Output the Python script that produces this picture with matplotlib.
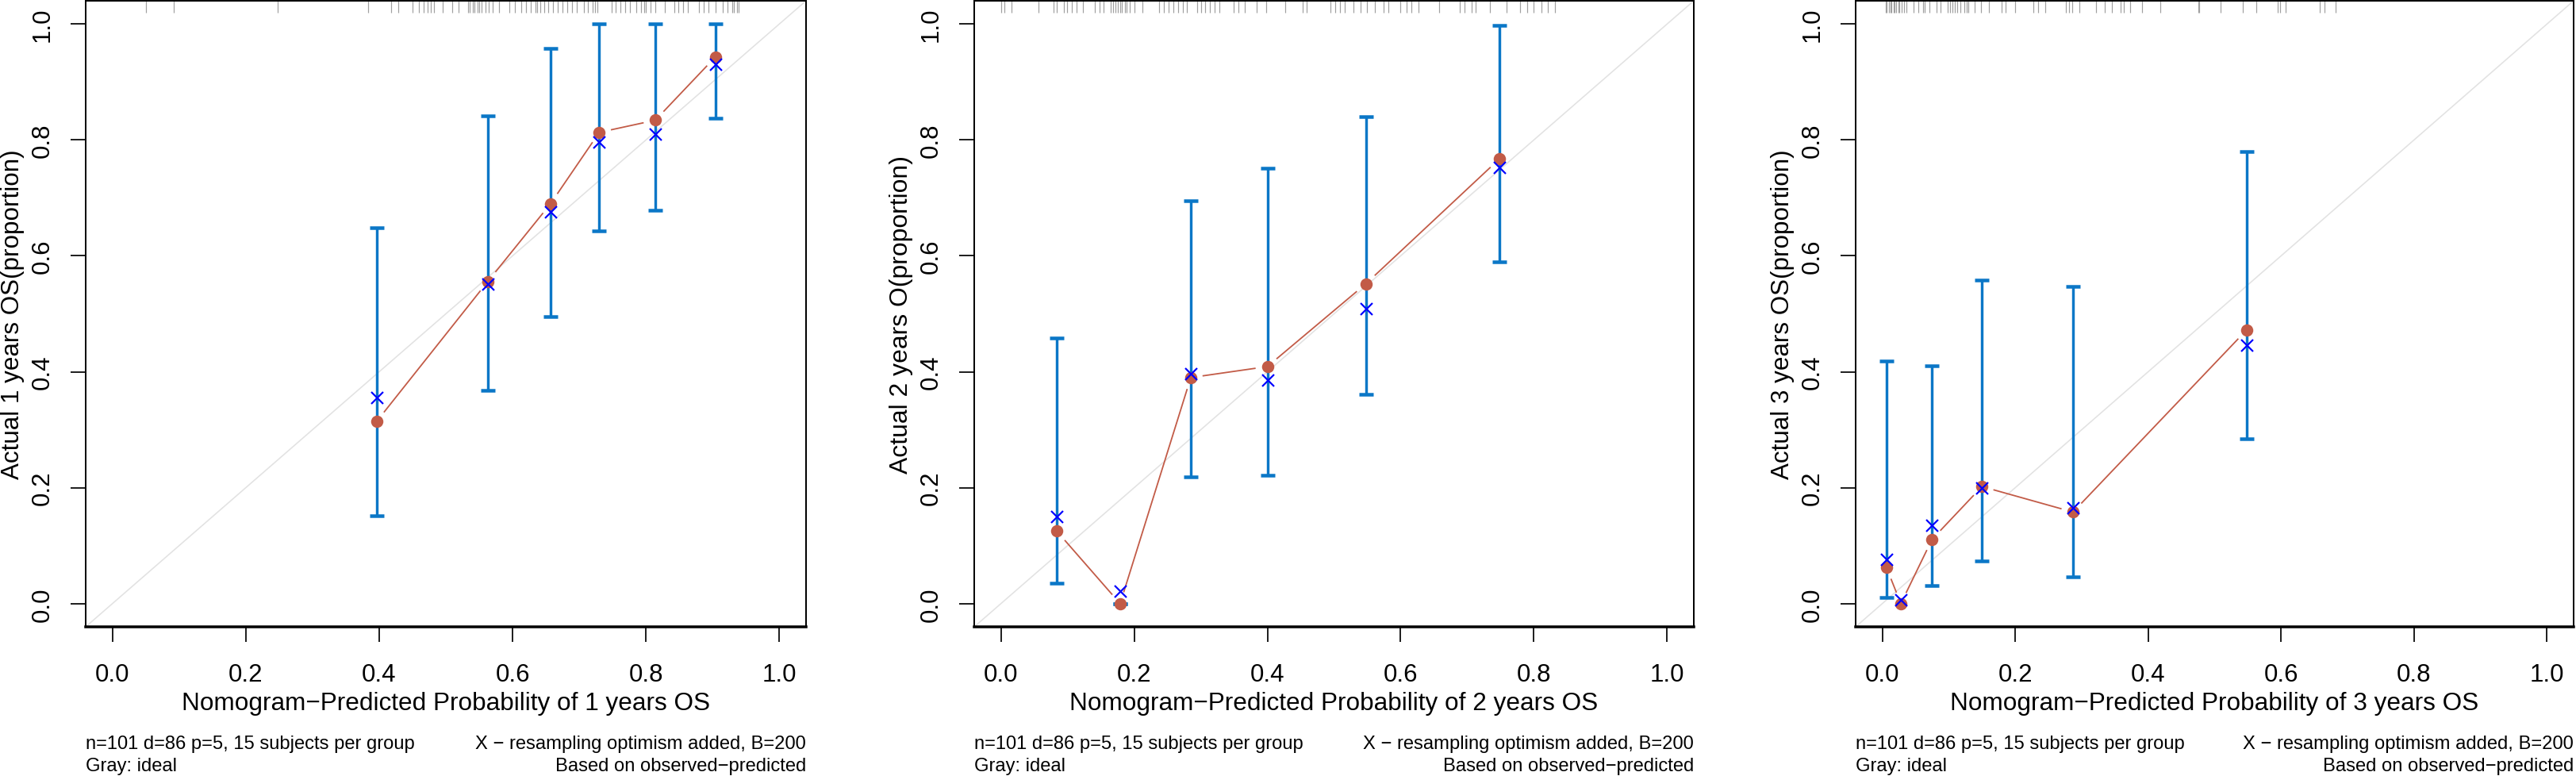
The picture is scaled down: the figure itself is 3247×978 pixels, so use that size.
import matplotlib
matplotlib.use("Agg")
import matplotlib.pyplot as plt
import matplotlib.transforms as mtransforms
import numpy as np

plt.rcParams['font.family'] = ['Liberation Sans', 'DejaVu Sans']

# ---- data ----
years = [1, 2, 3]
ylabels = ["Actual 1 years OS(proportion)",
           "Actual 2 years O(proportion)",
           "Actual 3 years OS(proportion)"]

# panel 1 (1 year)
pred_1 = [0.396, 0.563, 0.657, 0.730, 0.814, 0.904]
obs_1 = [0.314, 0.556, 0.690, 0.813, 0.834, 0.943]
corr_1 = [0.355, 0.551, 0.676, 0.797, 0.810, 0.931]
low_1 = [0.151, 0.368, 0.495, 0.643, 0.679, 0.837]
up_1 = [0.648, 0.841, 0.958, 1.000, 1.000, 1.000]
rug_1 = [0.050, 0.092, 0.248, 0.384, 0.418, 0.429, 0.450, 0.459, 0.467, 0.473,
         0.477, 0.482, 0.495, 0.509, 0.519, 0.533, 0.536, 0.540, 0.543, 0.547,
         0.550, 0.554, 0.559, 0.564, 0.570, 0.580, 0.595, 0.604, 0.613, 0.620,
         0.627, 0.634, 0.637, 0.641, 0.648, 0.654, 0.661, 0.668, 0.675, 0.682,
         0.689, 0.696, 0.707, 0.713, 0.720, 0.724, 0.727, 0.748, 0.755, 0.762,
         0.769, 0.776, 0.786, 0.793, 0.797, 0.800, 0.807, 0.814, 0.828, 0.842,
         0.849, 0.856, 0.863, 0.880, 0.887, 0.894, 0.904, 0.915, 0.922, 0.929,
         0.932, 0.936, 0.939]

# panel 2 (2 years)
pred_2 = [0.084, 0.179, 0.285, 0.400, 0.548, 0.748]
obs_2 = [0.125, 0.000, 0.390, 0.409, 0.552, 0.767]
corr_2 = [0.150, 0.022, 0.396, 0.386, 0.509, 0.752]
low_2 = [0.035, 0.000, 0.219, 0.221, 0.361, 0.589]
up_2 = [0.458, 0.000, 0.695, 0.751, 0.840, 0.997]
rug_2 = [0.001, 0.005, 0.016, 0.057, 0.079, 0.084, 0.095, 0.099, 0.106, 0.114,
         0.123, 0.141, 0.148, 0.154, 0.165, 0.168, 0.172, 0.175, 0.179, 0.182,
         0.186, 0.189, 0.193, 0.200, 0.213, 0.238, 0.245, 0.252, 0.259, 0.266,
         0.273, 0.279, 0.295, 0.300, 0.307, 0.314, 0.321, 0.328, 0.349, 0.356,
         0.366, 0.384, 0.398, 0.427, 0.453, 0.459, 0.495, 0.502, 0.509, 0.516,
         0.529, 0.540, 0.550, 0.561, 0.575, 0.582, 0.599, 0.609, 0.616, 0.627,
         0.658, 0.689, 0.696, 0.707, 0.713, 0.734, 0.759, 0.779, 0.790, 0.800,
         0.811, 0.821, 0.832]

# panel 3 (3 years)
pred_3 = [0.0065, 0.028, 0.075, 0.150, 0.287, 0.548]
obs_3 = [0.062, 0.000, 0.111, 0.202, 0.158, 0.472]
corr_3 = [0.076, 0.007, 0.135, 0.200, 0.165, 0.446]
low_3 = [0.010, np.nan, 0.031, 0.074, 0.046, 0.285]
up_3 = [0.418, np.nan, 0.411, 0.558, 0.547, 0.780]
rug_3 = [0.005, 0.007, 0.010, 0.012, 0.014, 0.017, 0.019, 0.021, 0.024, 0.026,
         0.029, 0.033, 0.036, 0.047, 0.054, 0.061, 0.064, 0.071, 0.082, 0.088,
         0.099, 0.102, 0.106, 0.109, 0.113, 0.118, 0.123, 0.127, 0.130, 0.139,
         0.148, 0.161, 0.179, 0.186, 0.200, 0.227, 0.234, 0.245, 0.276, 0.281,
         0.286, 0.297, 0.321, 0.335, 0.345, 0.359, 0.363, 0.373, 0.391, 0.418,
         0.475, 0.477, 0.509, 0.542, 0.563, 0.595, 0.598, 0.607, 0.658, 0.665,
         0.682]

panels = [
    (pred_1, obs_1, corr_1, low_1, up_1, rug_1),
    (pred_2, obs_2, corr_2, low_2, up_2, rug_2),
    (pred_3, obs_3, corr_3, low_3, up_3, rug_3),
]

foot_left = ["n=101 d=86 p=5, 15 subjects per group", "Gray: ideal"]
foot_right = ["X \u2212 resampling optimism added, B=200",
              "Based on observed\u2212predicted"]
ticks = [0.0, 0.2, 0.4, 0.6, 0.8, 1.0]

# ---- layout (pixels) ----
W, H = 3248, 979
lefts = [108, 1228, 2339]
widths = [908, 907, 905]
ax_bot, ax_h = 791, 789
PX = 72.0 / 100  # points per pixel at dpi 100

bar_col = '#0b77c7'
pt_col = '#c25b47'

fig = plt.figure(figsize=(W / 100, H / 100), dpi=100)
renderer = fig.canvas.get_renderer()


def fit_width(t, target, vertical=False):
    # shrink/grow a text so its extent matches what the picture shows
    bb = t.get_window_extent(renderer)
    size = bb.height if vertical else bb.width
    t.set_fontsize(t.get_fontsize() * target / size)


for i, (pred, obs, corr, low, up, rug) in enumerate(panels):
    ax_w = widths[i]
    ax = fig.add_axes([lefts[i] / W, (H - ax_bot) / H, ax_w / W, ax_h / H])
    ax.set_xlim(-0.04, 1.04)
    ax.set_ylim(-0.04, 1.04)
    for s in ax.spines.values():
        s.set_linewidth(2 * PX)
    ax.spines['bottom'].set_linewidth(3.5 * PX)

    # ideal line
    ax.plot([-0.04, 1.04], [-0.04, 1.04], color='#e2e2e2', lw=1.6 * PX, zorder=1)

    # rug of predicted values along the top
    trans = mtransforms.blended_transform_factory(ax.transData, ax.transAxes)
    ax.vlines(rug, 1 - 15 / ax_h, 1, transform=trans, color='#a0a0a0',
              lw=1.2 * PX, zorder=2)

    pred = np.array(pred)
    obs = np.array(obs)
    low = np.array(low)
    up = np.array(up)
    ok = ~np.isnan(low)
    ax.errorbar(pred[ok], (low[ok] + up[ok]) / 2, yerr=(up[ok] - low[ok]) / 2,
                fmt='none', ecolor=bar_col, elinewidth=3.4 * PX,
                capsize=9 * PX, capthick=4.5 * PX, zorder=3)

    # type="b" line: segments with gaps around the points
    disp = ax.transData.transform(np.column_stack([pred, obs]))
    gap = 15
    inv = ax.transData.inverted()
    for a, b in zip(disp[:-1], disp[1:]):
        d = b - a
        L = np.hypot(*d)
        if L <= 2 * gap:
            continue
        u = d / L
        p0 = inv.transform(a + u * gap)
        p1 = inv.transform(b - u * gap)
        ax.plot([p0[0], p1[0]], [p0[1], p1[1]], color=pt_col, lw=1.8 * PX,
                zorder=4, solid_capstyle='butt')

    ax.plot(pred, obs, 'o', color=pt_col, ms=15.5 * PX, mew=0, zorder=5)
    ax.plot(pred, corr, 'x', color='#0000ff', ms=15 * PX, mew=2.2 * PX, zorder=6)

    ax.set_xticks(ticks)
    ax.set_yticks(ticks)
    ax.set_xticklabels([f"{t:.1f}" for t in ticks])
    ax.set_yticklabels([f"{t:.1f}" for t in ticks], rotation=90, va='center')
    ax.tick_params(axis='both', direction='out', length=19 * PX,
                   width=2 * PX, labelsize=22.5, color='#222222')
    ax.tick_params(axis='x', pad=26 * PX)
    ax.tick_params(axis='y', pad=20 * PX)

    xl = ax.set_xlabel(f"Nomogram\u2212Predicted Probability of {years[i]} years OS",
                       fontsize=21.5, va='center')
    ax.xaxis.set_label_coords(0.5, -96 / ax_h)
    fit_width(xl, 666)
    yl = ax.set_ylabel(ylabels[i], fontsize=21.5, va='center')
    ax.yaxis.set_label_coords(-92 / ax_w, 0.5)
    fit_width(yl, 415 if i != 1 else 400, vertical=True)

    for k, yy in enumerate([938, 966]):
        yf = -(yy - ax_bot) / ax_h
        tl = ax.text(0, yf, foot_left[k], transform=ax.transAxes, ha='left',
                     va='center', fontsize=16)
        tr = ax.text(1, yf, foot_right[k], transform=ax.transAxes, ha='right',
                     va='center', fontsize=16)
        if k == 0:
            fit_width(tl, 416)
            fit_width(tr, 416)
        else:
            tl.set_fontsize(foot_fs_l)
            tr.set_fontsize(foot_fs_r)
        foot_fs_l, foot_fs_r = tl.get_fontsize(), tr.get_fontsize()

fig.savefig("out.png", dpi=100)
